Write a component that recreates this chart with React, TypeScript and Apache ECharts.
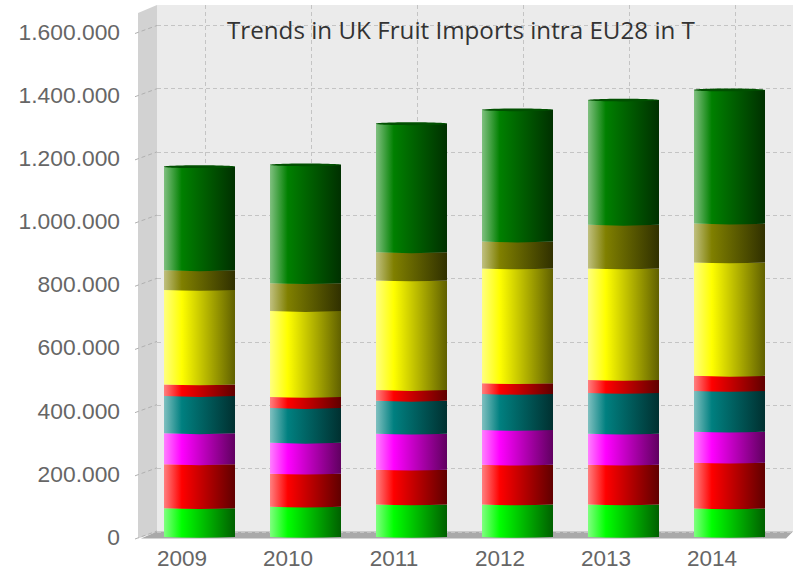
import React, { useEffect, useRef } from "react";
import * as echarts from "echarts";

const years = ["2009", "2010", "2011", "2012", "2013", "2014"];
const yTicks = [0, 200000, 400000, 600000, 800000, 1000000, 1200000, 1400000, 1600000];
const titleText = "Trends in UK Fruit Imports intra EU28 in T";

const s1 = [91000, 96000, 103000, 103000, 103000, 90000];
const s2 = [139000, 104000, 110000, 126000, 126000, 145000];
const s3 = [98000, 98000, 114000, 110000, 98000, 98000];
const s4 = [118000, 110000, 104000, 114000, 129000, 129000];
const s5 = [37000, 35000, 34000, 34000, 41000, 48000];
const s6 = [299000, 272000, 347000, 363000, 353000, 359000];
const s7 = [62000, 88000, 89000, 85000, 138000, 123000];
const s8 = [328000, 375000, 407000, 417000, 395000, 423000];
const allSeries = [s1, s2, s3, s4, s5, s6, s7, s8];

const palette: [string, string, string][] = [
  ["#80ff80", "#00ff00", "#006000"],
  ["#ff8080", "#ff0000", "#600000"],
  ["#ff80ff", "#ff00ff", "#600060"],
  ["#80c0c0", "#008080", "#003030"],
  ["#ff8080", "#ff0000", "#600000"],
  ["#ffff80", "#ffff00", "#606000"],
  ["#c0c080", "#808000", "#303000"],
  ["#80c080", "#008000", "#003000"],
];

const BAR_W = 71;
const BAR_DX = 12.5;
const CURVE = 1.6;

function gradient(c: [string, string, string]) {
  return new echarts.graphic.LinearGradient(0, 0, 1, 0, [
    { offset: 0, color: c[0] },
    { offset: 0.25, color: c[1] },
    { offset: 1, color: c[2] },
  ]);
}

function segmentSeries(idx: number) {
  const cum = years.map((_, i) => allSeries.slice(0, idx).reduce((a, s) => a + s[i], 0));
  const data = years.map((_, i) => [i, cum[i], cum[i] + allSeries[idx][i]]);
  const isLast = idx === allSeries.length - 1;
  return {
    type: "custom",
    xAxisIndex: 2,
    yAxisIndex: 2,
    z: 10 + idx,
    clip: false,
    silent: true,
    data,
    renderItem: (_p: any, api: any) => {
      const lo = api.coord([api.value(0), api.value(1)]);
      const hi = api.coord([api.value(0), api.value(2)]);
      const x0 = lo[0] + BAR_DX - BAR_W / 2;
      const x1 = x0 + BAR_W;
      const xc = (x0 + x1) / 2;
      const d = `M${x0} ${hi[1]}L${x1} ${hi[1]}L${x1} ${lo[1]}Q${xc} ${lo[1] + CURVE} ${x0} ${lo[1]}Z`;
      const children: any[] = [
        { type: "path", shape: { pathData: d, layout: "cover", x: x0, y: hi[1], width: BAR_W, height: lo[1] + CURVE / 2 - hi[1] }, style: { fill: gradient(palette[idx]) } },
      ];
      if (isLast) {
        children.push({
          type: "ellipse",
          shape: { cx: xc, cy: hi[1], rx: BAR_W / 2, ry: 1.4 },
          style: { fill: "#005000" },
        });
      }
      return { type: "group", children };
    },
  };
}

export default function App() {
  const ref = useRef<HTMLDivElement>(null);
  useEffect(() => {
    const chart = echarts.init(ref.current!, undefined, { renderer: "svg" });
    const dash = { color: "#c4c4c4", type: [4, 3] as number[], width: 1 };
    chart.setOption({
      animation: false,
      backgroundColor: "#ffffff",
      title: {
        text: titleText,
        left: 222,
        top: 12,
        textStyle: { fontFamily: "Open Sans", fontSize: 24.2, fontWeight: "normal", color: "#333333" },
      },
      graphic: [
        { type: "rect", z: -10, shape: { x: 157, y: 5, width: 636, height: 527 }, style: { fill: "#ebebeb" } },
        { type: "polygon", z: -9, shape: { points: [[138, 13], [157, 5], [157, 532], [138, 538.5]] }, style: { fill: "#d2d2d2" } },
        { type: "polygon", z: -9, shape: { points: [[141, 538.5], [157, 531.5], [793, 531.5], [786, 538.5]] }, style: { fill: "#a9a9a9" } },
      ],
      grid: [
        { left: 157, right: 0, top: 25, bottom: 40 },
        { left: 205, width: 530, top: 5, bottom: 40 },
        { left: 134, width: 636, top: 31.5, bottom: 35 },
      ],
      xAxis: [
        { gridIndex: 0, type: "category", data: years, show: false },
        {
          gridIndex: 1, type: "category", data: years, boundaryGap: false,
          axisLine: { show: false }, axisTick: { show: false }, axisLabel: { show: false },
          splitLine: { show: true, lineStyle: dash },
        },
        {
          gridIndex: 2, type: "category", data: years,
          axisLine: { show: false },
          axisTick: { show: false },
          axisLabel: {
            interval: 0, margin: 10, padding: [0, 10, 0, 0],
            fontFamily: "Liberation Sans", fontSize: 22.5, color: "#666666",
          },
        },
      ],
      yAxis: [
        {
          gridIndex: 0, type: "value", min: 0, max: 1600000, interval: 200000,
          axisLine: { show: false }, axisTick: { show: false }, axisLabel: { show: false },
          splitLine: { show: true, lineStyle: dash },
        },
        { gridIndex: 1, type: "value", show: false, min: 0, max: 1600000, splitLine: { show: false } },
        {
          gridIndex: 2, type: "value", min: 0, max: 1600000, interval: 200000,
          axisLine: { show: false }, axisTick: { show: false }, splitLine: { show: false },
          axisLabel: {
            margin: 14, padding: [0, 0, 3, 0],
            fontFamily: "Liberation Sans", fontSize: 22.8, color: "#666666",
            formatter: (v: number) => String(v).replace(/\B(?=(\d{3})+(?!\d))/g, "."),
          },
        },
      ],
      series: [
        {
          type: "custom",
          xAxisIndex: 2,
          yAxisIndex: 2,
          z: 1,
          clip: false,
          silent: true,
          data: yTicks.map((v) => [0, v]),
          renderItem: (p: any, api: any) => {
            const c = api.coord([0, api.value(1)]);
            const x = 138;
            return {
              type: "line",
              shape: { x1: x - 3, y1: c[1] + 2, x2: x + 19, y2: c[1] - 6 },
              style: { stroke: "#b0b0b0", lineWidth: 1, lineDash: [4, 3] },
            };
          },
        },
        ...allSeries.map((_, i) => segmentSeries(i)),
      ],
    });
    return () => chart.dispose();
  }, []);
  return <div ref={ref} style={{ position: "absolute", left: 0, top: 0, width: 793, height: 572 }} />;
}
